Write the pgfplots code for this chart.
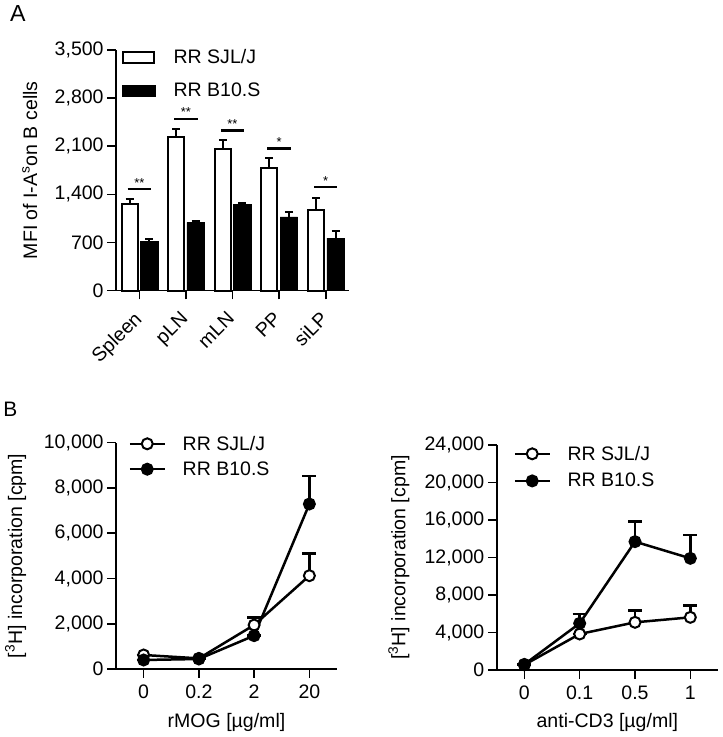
\documentclass[border=0pt]{standalone}
\usepackage{fontspec}
\setmainfont{Liberation Sans}
\usepackage{pgfplots}
\pgfplotsset{compat=1.18}
\newcommand\fsz{\fontsize{19.6}{23}\selectfont}
\newcommand\asz{\fontsize{13}{15}\selectfont}
\pgfplotsset{
 common/.style={
  scale only axis,
  axis x line*=bottom, axis y line*=left,
  xtick pos=bottom, ytick pos=left,
  axis line style={-, line width=1.6bp, black},
  tick align=outside,
  major tick length=8.7bp,
  every tick/.style={line width=1.6bp, black},
  tick label style={font=\fsz, inner sep=0pt},
  yticklabel style={xshift=-3.5bp},
  label style={font=\fsz, inner sep=0pt},
  /pgf/number format/assume math mode=true,
  scaled y ticks=false,
  clip=false,
  legend cell align=left,
  legend style={draw=none, fill=none, font=\fsz, inner sep=0pt, nodes={inner sep=0pt}},
 },
 ebar/.style={error bars/.cd, y dir=plus, y explicit,
   error bar style={line width=#1, black},
   error mark options={rotate=90, mark size=4bp, line width=#1, black}},
 lbar/.style={error bars/.cd, y dir=plus, y explicit,
   error bar style={line width=2.5bp, black},
   error mark options={rotate=90, mark size=7bp, line width=2.5bp, black}},
 lineleg/.style={legend image code/.code={
   \draw[line width=2.5bp,black] (0bp,0bp) -- (35bp,0bp);
   \draw[line width=2bp,black,fill=#1] (17.5bp,0bp) circle (5.5bp);}},
}
\begin{document}
\begin{tikzpicture}
\useasboundingbox (0,0) rectangle (723bp,737bp);
\node[anchor=south west, inner sep=0pt, font=\fontsize{23.3}{26}\selectfont] at (10bp,715.3bp) {A};
\node[anchor=south west, inner sep=0pt, font=\fontsize{21}{25}\selectfont] at (3.3bp,320.3bp) {B};

% Panel A
\begin{axis}[common, at={(116bp,446.3bp)}, anchor=south west, width=233bp, height=240.7bp,
 xmin=-0.5, xmax=4.5, ymin=0, ymax=3500, ytick={0,700,1400,2100,2800,3500},
 xtick={0,1,2,3,4}, xticklabels={Spleen,pLN,mLN,PP,siLP},
 xticklabel style={xshift=-6.6bp, yshift=-10.8bp, rotate=45, anchor=north east},
 ylabel={MFI of I-A\textsuperscript{s}on B cells},
 ylabel style={at={(axis description cs:-0.37,0.5)}, anchor=center},
 legend style={at={(axis description cs:0.0245,1.002)}, anchor=north west, row sep=17.5bp, column sep=18bp}]
\addplot[ybar, bar width=16bp, bar shift=0pt, fill=white, draw=black, line width=2bp,
  legend image code/.code={\draw[fill=white,draw=black,line width=2bp] (1bp,-5.5bp) rectangle (32.3bp,5.5bp);},
  ebar=2bp]
  coordinates {(-0.208,1264) +- (0,75) (0.792,2231) +- (0,125) (1.792,2062) +- (0,125) (2.792,1789) +- (0,140) (3.792,1177) +- (0,170)};
\addlegendentry{RR SJL/J}
\addplot[ybar, bar width=17.5bp, bar shift=0pt, fill=black, draw=black, line width=0.4bp,
  legend image code/.code={\fill[black] (0bp,-5.5bp) rectangle (33.3bp,5.5bp);},
  ebar=2bp]
  coordinates {(0.211,714) +- (0,36) (1.211,992) +- (0,15) (2.211,1260) +- (0,12) (3.211,1075) +- (0,63) (4.211,764) +- (0,102)};
\addlegendentry{RR B10.S}
\addplot[black, line width=2.5bp, forget plot] coordinates {(-0.25,1479) (0.25,1479)};
\addplot[black, line width=2.5bp, forget plot] coordinates {(0.75,2500) (1.25,2500)};
\addplot[black, line width=2.5bp, forget plot] coordinates {(1.75,2329) (2.25,2329)};
\addplot[black, line width=2.5bp, forget plot] coordinates {(2.75,2071) (3.25,2071)};
\addplot[black, line width=2.5bp, forget plot] coordinates {(3.75,1508) (4.25,1508)};
\node[font=\asz, inner sep=0pt, yshift=6.4bp] at (axis cs:0,1479) {**};
\node[font=\asz, inner sep=0pt, yshift=6.4bp] at (axis cs:1,2500) {**};
\node[font=\asz, inner sep=0pt, yshift=6.4bp] at (axis cs:2,2329) {**};
\node[font=\asz, inner sep=0pt, yshift=6.4bp] at (axis cs:3,2071) {*};
\node[font=\asz, inner sep=0pt, yshift=6.4bp] at (axis cs:4,1508) {*};
\end{axis}

% Panel B left
\begin{axis}[common, at={(116bp,68bp)}, anchor=south west, width=221bp, height=226.3bp,
 xmin=-0.5, xmax=3.5, ymin=0, ymax=10000, ytick={0,2000,4000,6000,8000,10000},
 xtick={0,1,2,3}, xticklabels={0,0.2,2,20},
 xticklabel style={yshift=-7bp},
 xlabel={rMOG [µg/ml]}, ylabel={[\textsuperscript{3}H] incorporation [cpm]},
 xlabel style={at={(axis description cs:0.5,-0.2364)}, anchor=center},
 ylabel style={at={(axis description cs:-0.454,0.5)}, anchor=center},
 legend style={at={(axis description cs:0.0557,1.0305)}, anchor=north west, row sep=10bp, column sep=16.7bp}]
\addplot[black, line width=2.5bp, mark=*, mark size=5.5bp, mark options={fill=white, line width=2bp}, lineleg=white, lbar]
 coordinates {(0,619) +- (0,0) (1,470) +- (0,0) (2,1944) +- (0,340) (3,4123) +- (0,989)};
\addlegendentry{RR SJL/J}
\addplot[black, line width=2.5bp, mark=*, mark size=5.5bp, mark options={fill=black, line width=2bp}, lineleg=black, lbar]
 coordinates {(0,398) +- (0,0) (1,442) +- (0,0) (2,1473) +- (0,0) (3,7291) +- (0,1237)};
\addlegendentry{RR B10.S}
\end{axis}

% Panel B right
\begin{axis}[common, at={(496.7bp,67bp)}, anchor=south west, width=221.3bp, height=225bp,
 xmin=-0.5, xmax=3.5, ymin=0, ymax=24000, ytick={0,4000,8000,12000,16000,20000,24000},
 xtick={0,1,2,3}, xticklabels={0,0.1,0.5,1},
 xticklabel style={yshift=-7bp},
 xlabel={anti-CD3 [µg/ml]}, ylabel={[\textsuperscript{3}H] incorporation [cpm]},
 xlabel style={at={(axis description cs:0.5,-0.2333)}, anchor=center},
 ylabel style={at={(axis description cs:-0.4415,0.5)}, anchor=center},
 legend style={at={(axis description cs:0.075,0.9964)}, anchor=north west, row sep=11.7bp, column sep=16.6bp}]
\addplot[black, line width=2.5bp, mark=*, mark size=5.5bp, mark options={fill=white, line width=2bp}, lineleg=white, lbar]
 coordinates {(0,550) +- (0,0) (1,3840) +- (0,0) (2,5085) +- (0,1242) (3,5618) +- (0,1240)};
\addlegendentry{RR SJL/J}
\addplot[black, line width=2.5bp, mark=*, mark size=5.5bp, mark options={fill=black, line width=2bp}, lineleg=black, lbar]
 coordinates {(0,600) +- (0,0) (1,4978) +- (0,995) (2,13689) +- (0,2133) (3,11911) +- (0,2489)};
\addlegendentry{RR B10.S}
\end{axis}
\end{tikzpicture}
\end{document}
